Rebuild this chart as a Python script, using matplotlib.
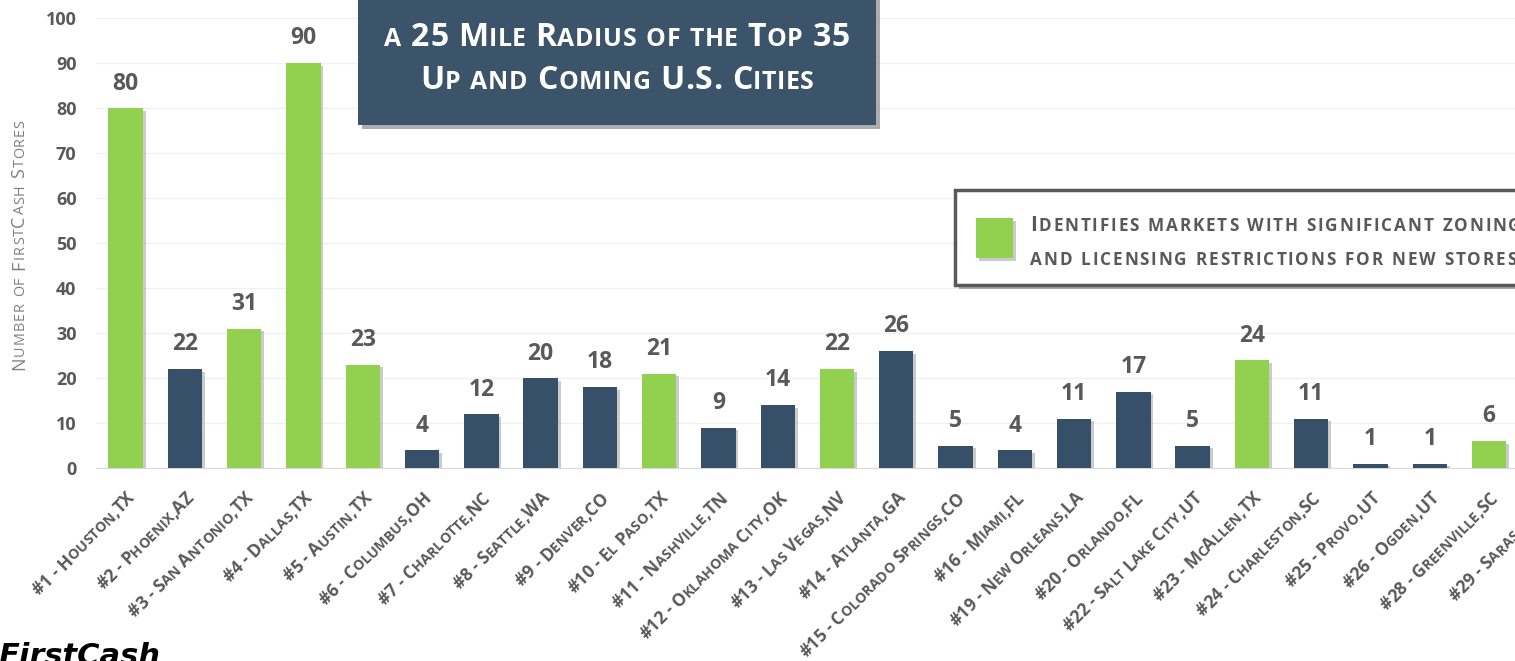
import math
import matplotlib
matplotlib.use('Agg')
import matplotlib.pyplot as plt
import matplotlib.patheffects as pe
from matplotlib.patches import Rectangle
from matplotlib.font_manager import FontProperties
from matplotlib.transforms import IdentityTransform

FONT = ['Open Sans', 'DejaVu Sans']
plt.rcParams['font.family'] = FONT

# data (last city is cut off at the right edge)
cities = ['#1 - Houston,TX', '#2 - Phoenix,AZ', '#3 - San Antonio,TX', '#4 - Dallas,TX',
          '#5 - Austin,TX', '#6 - Columbus,OH', '#7 - Charlotte,NC', '#8 - Seattle,WA',
          '#9 - Denver,CO', '#10 - El Paso,TX', '#11 - Nashville,TN', '#12 - Oklahoma City,OK',
          '#13 - Las Vegas,NV', '#14 - Atlanta,GA', '#15 - Colorado Springs,CO', '#16 - Miami,FL',
          '#19 - New Orleans,LA', '#20 - Orlando,FL', '#22 - Salt Lake City,UT', '#23 - McAllen,TX',
          '#24 - Charleston,SC', '#25 - Provo,UT', '#26 - Ogden,UT', '#28 - Greenville,SC',
          '#29 - Sarasota,FL']
stores = [80, 22, 31, 90, 23, 4, 12, 20, 18, 21, 9, 14, 22, 26, 5, 4, 11, 17, 5, 24, 11, 1, 1, 6, 3]
restricted = [True, False, True, True, True, False, False, False, False, True, False, False,
              True, False, False, False, False, False, False, True, False, False, False, True, False]
yticks = [0, 10, 20, 30, 40, 50, 60, 70, 80, 90, 100]
title_lines = ['a 25 Mile Radius of the Top 35', 'Up and Coming U.S. Cities']
legend_lines = ['Identifies markets with significant zoning', 'and licensing restrictions for new stores']
ylabel = 'Number of FirstCash Stores'

GREEN = '#92D050'
NAVY = '#36506A'
BOX = '#3B5469'
GRAY = '#595959'

W, H = 1515, 661
fig = plt.figure(figsize=(W / 100, H / 100), dpi=100)
renderer = fig.canvas.get_renderer()
_cache = {}


def text_width(s, size, weight):
    key = (s, size, weight)
    if key not in _cache:
        fp = FontProperties(family=FONT, size=size, weight=weight)
        w1 = renderer.get_text_width_height_descent('|' + s + '|', fp, ismath=False)[0]
        w0 = renderer.get_text_width_height_descent('||', fp, ismath=False)[0]
        _cache[key] = w1 - w0
    return _cache[key]


def small_caps(x, y, s, size, ratio=0.78, ha='left', angle=0, color=GRAY, weight='bold',
               track=0.0, zorder=6):
    """fake small caps, one glyph at a time; x, y = baseline point in pixels from bottom-left"""
    pieces = [(c.upper(), size * ratio if c.islower() else size) for c in s]
    widths = [text_width(c, sz, weight) + track for c, sz in pieces]
    total = sum(widths) - track
    start = {'left': 0, 'center': -total / 2, 'right': -total}[ha]
    dx, dy = math.cos(math.radians(angle)), math.sin(math.radians(angle))
    px, py = x + dx * start, y + dy * start
    for (c, sz), w in zip(pieces, widths):
        if c != ' ':
            fig.text(px, py, c, transform=IdentityTransform(), rotation=angle, rotation_mode='anchor',
                     ha='left', va='baseline', fontsize=sz, fontweight=weight, color=color,
                     zorder=zorder, clip_on=False)
        px += dx * w
        py += dy * w


ax = fig.add_axes([96 / W, 193 / H, 1482 / W, 450 / H])

colors = [GREEN if r else NAVY for r in restricted]
x = list(range(len(cities)))
bars = ax.bar(x, stores, width=0.58, color=colors, zorder=3)
for b in bars:
    b.set_path_effects([pe.SimplePatchShadow(offset=(2, -2), shadow_rgbFace='#999999', alpha=0.5),
                        pe.Normal()])

for xi, v in zip(x, stores):
    ax.annotate(str(v), (xi, v), xytext=(0, 9), textcoords='offset points',
                ha='center', va='bottom', fontsize=16.5, fontweight='bold', color=GRAY)

ax.set_xlim(-0.5, len(cities) - 0.5)
ax.set_ylim(0, 100)
ax.set_yticks(yticks)
ax.tick_params(axis='y', length=0, pad=14, labelsize=13, labelcolor=GRAY)
for t in ax.get_yticklabels():
    t.set_fontweight('bold')
ax.set_xticks(x)
ax.set_xticklabels([])
ax.tick_params(axis='x', length=0)
ax.grid(axis='y', color='#F0F0F0', linewidth=1, zorder=0)
for s in ['top', 'right', 'left']:
    ax.spines[s].set_visible(False)
ax.spines['bottom'].set_color('#D9D9D9')

# rotated city labels, anchored at their right end under each bar
for xi, c in zip(x, cities):
    bx, by = ax.transData.transform((xi, 0))
    small_caps(bx + 10, by - 31, c, 12.5, ratio=0.82, ha='right', angle=45, track=0.0)

# y axis title
small_caps(24, H - 245, ylabel, 13, ratio=0.8, ha='center', angle=90, color='#7F7F7F',
           weight='normal', track=1.0)

# title box
shadow = [pe.SimplePatchShadow(offset=(3, -3), shadow_rgbFace='#777777', alpha=0.6), pe.Normal()]
tbox = Rectangle((358 / W, 1 - 125 / H), 518 / W, 130 / H, transform=fig.transFigure,
                 facecolor=BOX, edgecolor='none', zorder=5)
tbox.set_path_effects(shadow)
fig.add_artist(tbox)
small_caps(617, H - 46, title_lines[0], 23, ratio=0.78, ha='center', color='white', track=0.6)
small_caps(617, H - 89, title_lines[1], 23, ratio=0.78, ha='center', color='white', track=0.6)

# legend box
lbox = Rectangle((955 / W, 1 - 285 / H), 620 / W, 95 / H, transform=fig.transFigure,
                 facecolor='white', edgecolor='#595959', linewidth=2.5, zorder=5)
lbox.set_path_effects(shadow)
fig.add_artist(lbox)
sq = Rectangle((976 / W, 1 - 258 / H), 37 / W, 40 / H, transform=fig.transFigure,
               facecolor=GREEN, edgecolor='none', zorder=6)
sq.set_path_effects([pe.SimplePatchShadow(offset=(2, -2), shadow_rgbFace='#999999', alpha=0.5), pe.Normal()])
fig.add_artist(sq)
small_caps(1030, H - 231, legend_lines[0], 15, ratio=0.82, track=1.8)
small_caps(1030, H - 265, legend_lines[1], 15, ratio=0.82, track=1.8)

# logo, cut at the bottom edge
fig.text(-2 / W, 1 - 642 / H, 'FirstCash', ha='left', va='top', fontsize=22,
         fontweight='bold', style='italic', color='black', family='DejaVu Sans')

fig.savefig('out.png', dpi=100)
